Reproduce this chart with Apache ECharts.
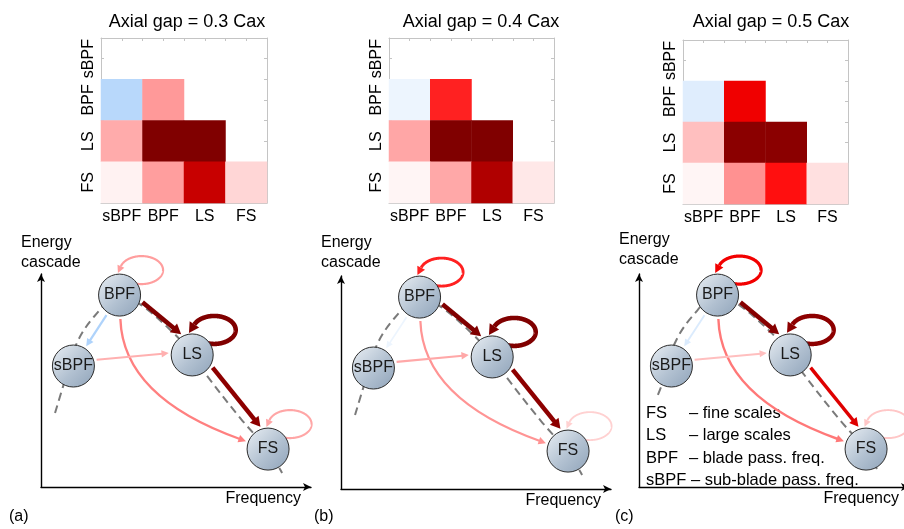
<!DOCTYPE html>
<html><head><meta charset="utf-8">
<script src="https://cdn.jsdelivr.net/npm/echarts@6/dist/echarts.min.js"></script>
<style>html,body{margin:0;padding:0;background:#fff}#c{width:904px;height:529px}</style>
</head><body><div id="c"></div>
<script>
// ---------------- data ----------------
const categories = ['sBPF', 'BPF', 'LS', 'FS'];
const yCategories = ['FS', 'LS', 'BPF', 'sBPF'];
const titles = ['Axial gap = 0.3 Cax', 'Axial gap = 0.4 Cax', 'Axial gap = 0.5 Cax'];
// rows top -> bottom: sBPF, BPF, LS, FS ; columns: sBPF, BPF, LS, FS (0 = blank cell)
const gap03 = [
  [0, 0, 0, 0],
  [-0.40, 0.40, 0, 0],
  [0.33, 2.00, 2.00, 0],
  [0.05, 0.38, 1.43, 0.16]
];
const gap04 = [
  [0, 0, 0, 0],
  [-0.10, 0.87, 0, 0],
  [0.35, 2.00, 2.00, 0],
  [0.04, 0.34, 1.62, 0.09]
];
const gap05 = [
  [0, 0, 0, 0],
  [-0.18, 1.12, 0, 0],
  [0.25, 1.91, 1.91, 0],
  [0.04, 0.43, 0.94, 0.12]
];
const nodeNames = ['sBPF', 'BPF', 'LS', 'FS'];
const nodeFreq = [12.0, 29.1, 56.0, 84.1];
const nodeEnergy = [56.8, 90.1, 62.0, 17.8];
// edges: [source, target, weight]
const edges03 = [[1,1,0.38],[1,2,2.0],[2,2,2.0],[2,3,1.9],[1,3,0.5],[0,2,0.31],[1,0,-0.45],[3,3,0.35]];
const edges04 = [[1,1,0.87],[1,2,2.0],[2,2,2.0],[2,3,1.9],[1,3,0.42],[0,2,0.34],[1,0,-0.1],[3,3,0.18]];
const edges05 = [[1,1,1.1],[1,2,1.95],[2,2,1.9],[2,3,1.25],[1,3,0.53],[0,2,0.25],[1,0,-0.2],[3,3,0.22]];
const spectrumFreqAB = [5.2, 8.1, 13.3, 20.0, 28.9, 37.0, 48.9, 55.9, 60.7, 74.1, 83.7, 89.3];
const spectrumEnergyAB = [34.7, 46.9, 67.6, 80.5, 89.8, 85.5, 72.5, 62.5, 53.5, 31.9, 17.8, 6.6];
const spectrumFreqC = [7.0, 8.6, 13.3, 20.0, 28.9, 37.0, 48.9, 55.9, 60.7, 74.1, 83.7, 88.9];
const spectrumEnergyC = [43.2, 48.5, 67.6, 80.5, 89.8, 85.5, 72.5, 62.5, 53.5, 31.9, 17.8, 6.6];
const panelLabels = ['(a)', '(b)', '(c)'];
const legendAbbr = ['FS', 'LS', 'BPF', 'sBPF'];
const legendDesc = ['– fine scales', '– large scales', '– blade pass. freq.', '– sub-blade pass. freq.'];

// ---------------- layout / style ----------------
const FONT = 'Liberation Sans, Arial, sans-serif';
const heatGrids = [
  {left: 101, top: 38, width: 166, height: 165},
  {left: 389, top: 38, width: 165, height: 165},
  {left: 683, top: 40, width: 165, height: 164}
];
const titleX = [182, 476, 766];
const diagGrids = [
  {left: 41, top: 274, width: 270, height: 213},
  {left: 341, top: 276, width: 270, height: 213},
  {left: 639, top: 274, width: 270, height: 213}
];
const NODE_R = 21;
const LOOP = {dx: 22, dy: -25, rx: 21.5, ry: 14, start: 110 * Math.PI / 180};
const CURVES = {'1-3': {k: 0.32, s: -0.145}};
const OFFSETS = {'1-2': 9, '2-3': 8, '0-2': 4, '1-0': 0};
const GAP_START = 24, GAP_END = 23.5;

function norm(v) { const l = Math.hypot(v[0], v[1]) || 1; return [v[0] / l, v[1] / l]; }
function toCells(m) {
  const out = [];
  for (let r = 0; r < 4; r++) for (let c = 0; c < 4; c++) {
    if (m[r][c] !== 0) out.push([c, 3 - r, m[r][c]]);
  }
  return out;
}

function renderEdge(params, api) {
  const s = api.value(0), t = api.value(1), v = api.value(2);
  const color = api.visual('color');
  const w = 1.6 + 1.5 * Math.abs(v);
  const alen = 5 + 1.1 * w, ahalf = 2 + 0.8 * w;
  const S = api.coord([nodeFreq[s], nodeEnergy[s]]);
  const T = api.coord([nodeFreq[t], nodeEnergy[t]]);
  const children = [];
  let tip, dir;
  if (s === t) {
    const cx = S[0] + LOOP.dx, cy = S[1] + LOOP.dy;
    const pts = [];
    for (let th = LOOP.start; th > -1.8 * Math.PI; th -= 0.02) {
      const p = [cx + LOOP.rx * Math.cos(th), cy + LOOP.ry * Math.sin(th)];
      const d = norm([LOOP.rx * Math.sin(th), -LOOP.ry * Math.cos(th)]);
      pts.push(p);
      if (th < -Math.PI / 2) {
        const tp = [p[0] + alen * d[0], p[1] + alen * d[1]];
        if (Math.hypot(tp[0] - S[0], tp[1] - S[1]) <= NODE_R + 1.5) { tip = tp; dir = d; break; }
      }
    }
    children.push({type: 'polyline', shape: {points: pts}, style: {stroke: color, lineWidth: w, fill: 'none'}});
  } else {
    const key = s + '-' + t;
    const cs = CURVES[key];
    if (cs) {
      const D = [T[0] - S[0], T[1] - S[1]];
      const L = Math.hypot(D[0], D[1]);
      const perp = [-D[1] / L, D[0] / L];
      const C = [(S[0] + T[0]) / 2 + cs.k * L * perp[0] + cs.s * D[0],
                 (S[1] + T[1]) / 2 + cs.k * L * perp[1] + cs.s * D[1]];
      const us = norm([C[0] - S[0], C[1] - S[1]]);
      const ut = norm([C[0] - T[0], C[1] - T[1]]);
      const P0 = [S[0] + GAP_START * us[0], S[1] + GAP_START * us[1]];
      tip = [T[0] + GAP_END * ut[0], T[1] + GAP_END * ut[1]];
      dir = norm([tip[0] - C[0], tip[1] - C[1]]);
      const base = [tip[0] - alen * 0.85 * dir[0], tip[1] - alen * 0.85 * dir[1]];
      children.push({type: 'bezierCurve', shape: {x1: P0[0], y1: P0[1], x2: base[0], y2: base[1], cpx1: C[0], cpy1: C[1]},
        style: {stroke: color, lineWidth: w, fill: 'none'}});
    } else {
      const u = norm([T[0] - S[0], T[1] - S[1]]);
      const n = [u[1], -u[0]];
      const o = OFFSETS[key] || 0;
      const a0 = Math.sqrt(GAP_START * GAP_START - o * o);
      const a1 = Math.sqrt(GAP_END * GAP_END - o * o);
      const P0 = [S[0] + o * n[0] + a0 * u[0], S[1] + o * n[1] + a0 * u[1]];
      tip = [T[0] + o * n[0] - a1 * u[0], T[1] + o * n[1] - a1 * u[1]];
      dir = u;
      const base = [tip[0] - alen * 0.85 * u[0], tip[1] - alen * 0.85 * u[1]];
      children.push({type: 'line', shape: {x1: P0[0], y1: P0[1], x2: base[0], y2: base[1]},
        style: {stroke: color, lineWidth: w}});
    }
  }
  const b = [tip[0] - alen * dir[0], tip[1] - alen * dir[1]];
  const n2 = [-dir[1], dir[0]];
  children.push({type: 'polygon', shape: {points: [tip, [b[0] + ahalf * n2[0], b[1] + ahalf * n2[1]], [b[0] - ahalf * n2[0], b[1] - ahalf * n2[1]]]},
    style: {fill: color}});
  return {type: 'group', children};
}

// ---------------- option ----------------
const grids = [], xAxes = [], yAxes = [], series = [], titleOpts = [], graphics = [];
const mats = [gap03, gap04, gap05];
const edgeSets = [edges03, edges04, edges05];
const grey = '#c4c4c4';

for (let i = 0; i < 3; i++) {
  grids.push(Object.assign({outerBoundsMode: 'none', containLabel: false}, heatGrids[i]));
  titleOpts.push({text: titles[i], left: titleX[i], top: 8, textAlign: 'center',
    textStyle: {fontSize: 18, fontWeight: 'normal', color: '#000', fontFamily: FONT}});
  const tickAxis = (pos) => ({type: 'value', gridIndex: i, min: 0, max: 8, interval: 1, position: pos,
    axisLine: {show: true, onZero: false, lineStyle: {color: grey, width: 1}},
    axisTick: {show: true, inside: true, length: 3, lineStyle: {color: grey}},
    axisLabel: {show: false}, splitLine: {show: false}});
  xAxes.push({type: 'category', gridIndex: i, data: categories, position: 'bottom',
    axisLine: {show: false, onZero: false}, axisTick: {show: false}, splitLine: {show: false},
    axisLabel: {interval: 0, fontSize: 16, color: '#000', margin: 6, fontFamily: FONT}});
  xAxes.push(tickAxis('bottom'));
  xAxes.push(tickAxis('top'));
  yAxes.push({type: 'category', gridIndex: i, data: yCategories, position: 'left',
    axisLine: {show: false, onZero: false}, axisTick: {show: false}, splitLine: {show: false},
    axisLabel: {interval: 0, rotate: 90, fontSize: 16, color: '#000', margin: 4, fontFamily: FONT}});
  yAxes.push(tickAxis('left'));
  yAxes.push(tickAxis('right'));
}
for (let j = 0; j < 3; j++) {
  grids.push(Object.assign({outerBoundsMode: 'none', containLabel: false}, diagGrids[j]));
  xAxes.push({type: 'value', gridIndex: 3 + j, min: 0, max: 100,
    axisLine: {show: true, onZero: false, symbol: ['none', 'arrow'], symbolSize: [6, 8], lineStyle: {color: '#000', width: 1.4}},
    axisTick: {show: false}, axisLabel: {show: false}, splitLine: {show: false},
    name: 'Frequency', nameLocation: 'end', nameGap: -10,
    nameTextStyle: {align: 'right', verticalAlign: 'top', padding: [4, 0, 0, 0], fontSize: 16, color: '#000', fontFamily: FONT}});
  yAxes.push({type: 'value', gridIndex: 3 + j, min: 0, max: 100,
    axisLine: {show: true, onZero: false, symbol: ['none', 'arrow'], symbolSize: [6, 8], lineStyle: {color: '#000', width: 1.4}},
    axisTick: {show: false}, axisLabel: {show: false}, splitLine: {show: false}});
}
// heatmaps (series 0-2)
for (let i = 0; i < 3; i++) {
  series.push({type: 'heatmap', xAxisIndex: 3 * i, yAxisIndex: 3 * i, data: toCells(mats[i]),
    itemStyle: {borderWidth: 0}, emphasis: {disabled: true}, label: {show: false}});
}
// edges (series 3-5)
for (let j = 0; j < 3; j++) {
  series.push({type: 'custom', xAxisIndex: 9 + j, yAxisIndex: 9 + j, data: edgeSets[j],
    renderItem: renderEdge, clip: false, z: 3, silent: true});
}
// spectrum dashed curves (series 6-8)
const specSets = [[spectrumFreqAB, spectrumEnergyAB], [spectrumFreqAB, spectrumEnergyAB], [spectrumFreqC, spectrumEnergyC]];
for (let j = 0; j < 3; j++) {
  const [fx, ey] = specSets[j];
  series.push({type: 'line', xAxisIndex: 9 + j, yAxisIndex: 9 + j, data: fx.map((f, k) => [f, ey[k]]),
    smooth: 0.35, showSymbol: false, symbol: 'none', z: 1, silent: true,
    lineStyle: {color: '#7a7a7a', width: 2, type: [8, 5]}});
}
// nodes (series 9-11)
for (let j = 0; j < 3; j++) {
  series.push({type: 'scatter', xAxisIndex: 9 + j, yAxisIndex: 9 + j, z: 5, silent: true,
    data: nodeNames.map((n, k) => ({name: n, value: [nodeFreq[k], nodeEnergy[k]]})),
    symbol: 'circle', symbolSize: 2 * NODE_R,
    itemStyle: {opacity: 1, borderColor: '#2b2b2b', borderWidth: 1,
      color: new echarts.graphic.LinearGradient(0, 0, 1, 1, [
        {offset: 0, color: '#eaeff4'}, {offset: 0.55, color: '#b2c1d1'}, {offset: 1, color: '#8fa3b9'}])},
    label: {show: true, position: 'inside', formatter: '{b}', fontSize: 16, color: '#1a1a1a', fontFamily: FONT}});
}
// text decorations
const energyPos = [[21, 233], [321, 233], [619, 230]];
const labelPos = [[9, 509], [314, 509], [615, 509]];
for (let j = 0; j < 3; j++) {
  graphics.push({type: 'text', left: energyPos[j][0], top: energyPos[j][1], silent: true,
    style: {text: 'Energy\ncascade', fontSize: 16, lineHeight: 20, fontFamily: FONT, fill: '#000'}});
  graphics.push({type: 'text', left: labelPos[j][0], top: labelPos[j][1], silent: true,
    style: {text: panelLabels[j], fontSize: 16, fontFamily: FONT, fill: '#000'}});
}
for (let k = 0; k < legendAbbr.length; k++) {
  const top = 405 + k * 22.3;
  if (k < legendAbbr.length - 1) {
    graphics.push({type: 'text', left: 646, top: top, silent: true,
      style: {text: legendAbbr[k], fontSize: 16.5, fontFamily: FONT, fill: '#000'}});
    graphics.push({type: 'text', left: 689, top: top, silent: true,
      style: {text: legendDesc[k], fontSize: 16.5, fontFamily: FONT, fill: '#000'}});
  } else {
    graphics.push({type: 'text', left: 646, top: top, silent: true,
      style: {text: legendAbbr[k] + ' ' + legendDesc[k], fontSize: 16.5, fontFamily: FONT, fill: '#000'}});
  }
}

const option = {
  animation: false,
  backgroundColor: '#fff',
  textStyle: {fontFamily: FONT},
  title: titleOpts,
  grid: grids,
  xAxis: xAxes,
  yAxis: yAxes,
  visualMap: {type: 'continuous', show: false, min: -1, max: 2, dimension: 2,
    seriesIndex: [0, 1, 2, 3, 4, 5],
    inRange: {color: ['#4d9df5', '#ffffff', '#ff0000', '#800000']}},
  graphic: graphics,
  series: series
};
const chart = echarts.init(document.getElementById('c'), null, {renderer: 'canvas'});
chart.setOption(option);
</script>
</body></html>
